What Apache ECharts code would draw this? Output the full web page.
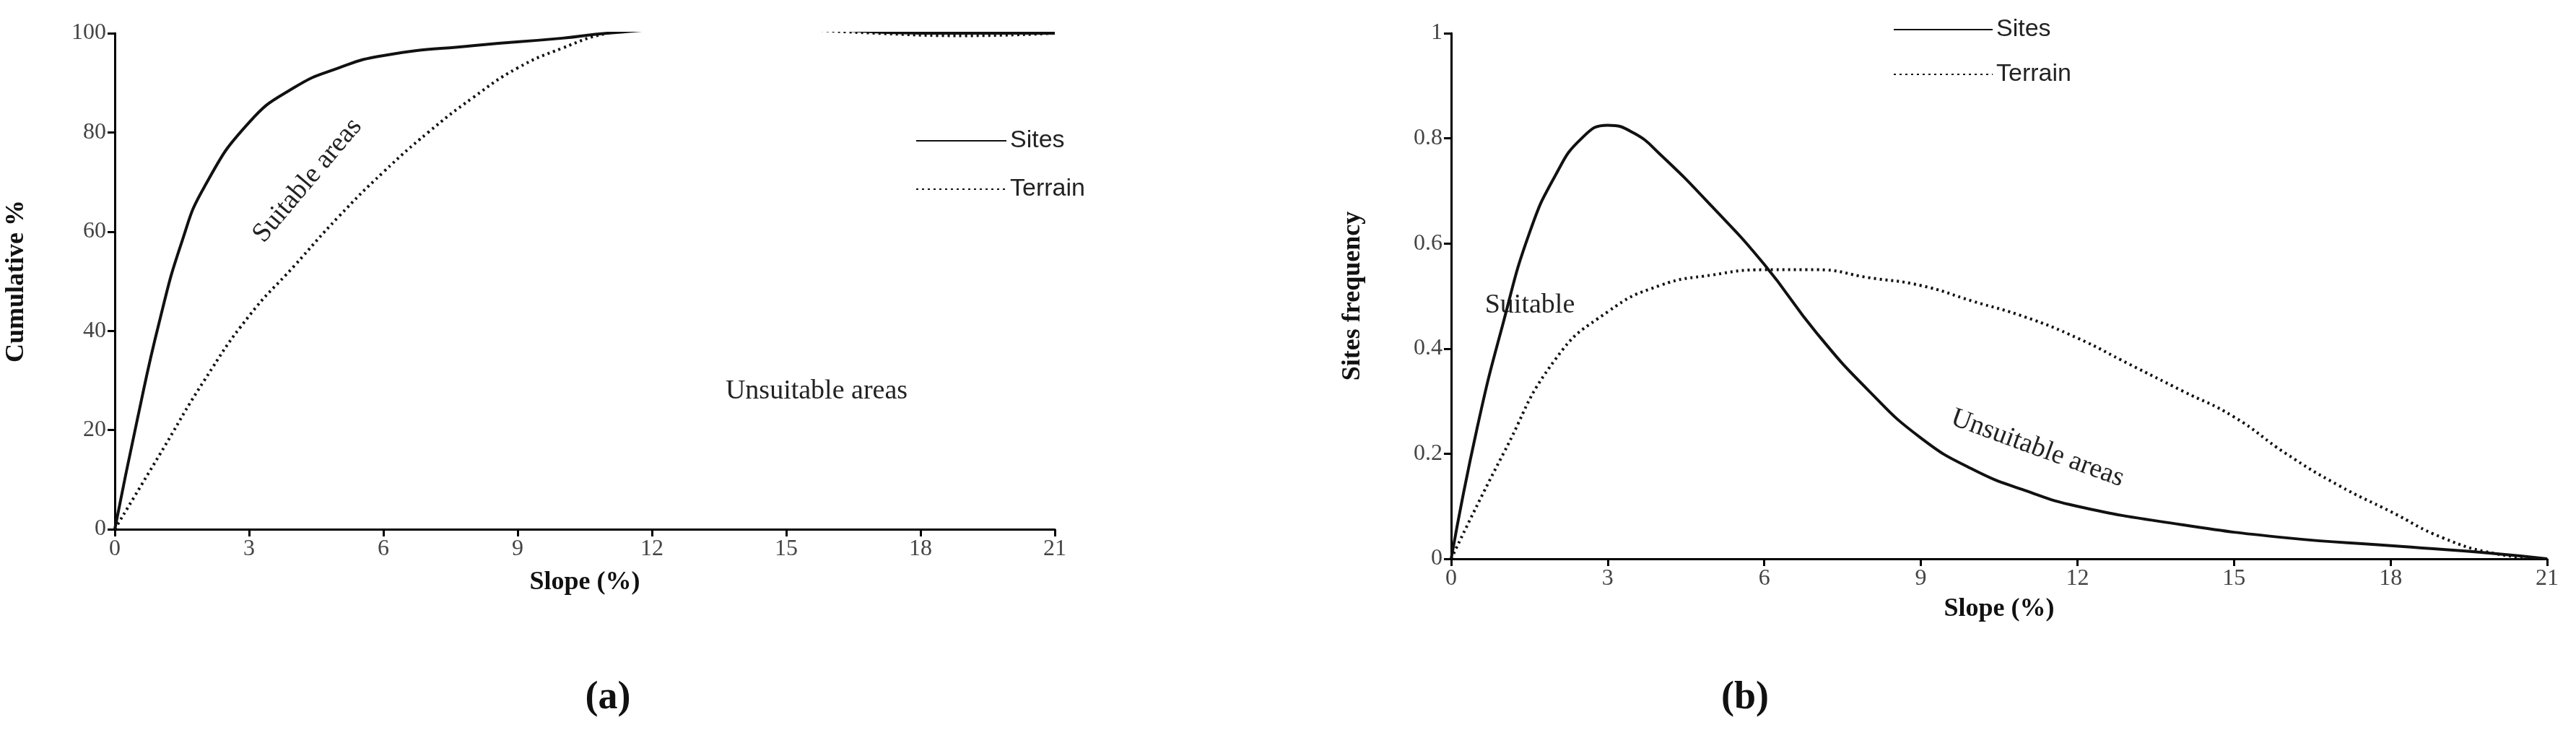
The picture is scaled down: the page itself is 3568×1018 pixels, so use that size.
<!DOCTYPE html><html><head><meta charset="utf-8"><script src="https://cdn.jsdelivr.net/npm/echarts@6/dist/echarts.min.js"></script>
<style>html,body{margin:0;background:#fff}#c{width:3568px;height:1018px}</style></head><body><div id="c"></div><script>
const cumSites=[[0,0],[0.5,22],[1,42],[1.5,58],[2,69],[3,82],[4,89],[5,93],[6,95.5],[8,97.5],[10,99],[11,100],[13,101],[15,101],[18,100],[21,100]];
const cumTerrain=[[0,0],[1,15],[2,30],[3,43],[4,53],[5,63],[6,72],[7,80],[8,87],[9,93],[10,97],[11,100],[12,101],[13,101.5],[14,101.5],[15,101],[17,100],[19,99.5],[21,100]];
const freqSites=[[0,0],[0.5,0.25],[1,0.45],[1.5,0.62],[2,0.73],[2.5,0.8],[3,0.825],[3.5,0.81],[4,0.77],[5,0.67],[6,0.56],[7,0.43],[8,0.32],[9,0.23],[10,0.17],[11,0.13],[12,0.1],[14,0.065],[16,0.04],[18,0.025],[20,0.01],[21,0]];
const freqTerrain=[[0,0],[1,0.2],[2,0.38],[3,0.47],[4,0.52],[5,0.54],[6,0.55],[7,0.55],[8,0.535],[9,0.52],[10,0.49],[11,0.46],[12,0.42],[13,0.37],[14,0.32],[15,0.27],[16,0.2],[17,0.14],[18,0.09],[19,0.04],[20,0.01],[21,0]];
const F='Liberation Serif';
const ax={axisLine:{lineStyle:{color:'#000',width:3}},axisTick:{length:10,lineStyle:{color:'#000',width:3}},splitLine:{show:false},axisLabel:{color:'#444',fontFamily:F,fontSize:32,margin:12}};
const nm={fontFamily:F,fontSize:36,fontWeight:'bold',color:'#111'};
function x(i,gap){return Object.assign({type:'value',gridIndex:i,min:0,max:21,interval:3,name:'Slope (%)',nameLocation:'middle',nameGap:gap,nameTextStyle:nm},ax);}
function y(i,max,intv,name,gap){return Object.assign({type:'value',gridIndex:i,min:0,max:max,interval:intv,name:name,nameLocation:'middle',nameGap:gap,nameTextStyle:nm},ax);}
function s(name,d,i,dot){return {type:'line',name:name,data:d,xAxisIndex:i,yAxisIndex:i,smooth:0.5,symbol:'none',lineStyle:{color:'#111',width:dot?4:4,type:dot?[3,5]:'solid'},itemStyle:{color:'#111'}};}
const lg={orient:'vertical',itemHeight:20,itemStyle:{color:'transparent',borderWidth:0},textStyle:{fontFamily:'Liberation Sans',fontSize:34,color:'#222'}};
const ch=echarts.init(document.getElementById('c'));
ch.setOption({animation:false,
grid:[{left:159,top:46,width:1302,bottom:285},{left:2010,top:46,right:40,bottom:244}],
xAxis:[x(0,56),x(1,52)],
yAxis:[y(0,100,20,'Cumulative %',118),y(1,1,0.2,'Sites frequency',118)],
legend:[Object.assign({data:['Sites','Terrain'],left:1263,top:173,itemGap:33,itemWidth:125},lg),
Object.assign({data:['Sites ','Terrain '],left:2617,top:19,itemGap:28,itemWidth:137},lg)],
series:[s('Sites',cumSites,0,false),s('Terrain',cumTerrain,0,true),s('Sites ',freqSites,1,false),s('Terrain ',freqTerrain,1,true)],
graphic:[
{type:'text',x:426,y:250,rotation:0.87,style:{text:'Suitable areas',font:'38px "Liberation Serif"',fill:'#222',textAlign:'center',textVerticalAlign:'middle'}},
{type:'text',x:1131,y:542,style:{text:'Unsuitable areas',font:'38px "Liberation Serif"',fill:'#222',textAlign:'center',textVerticalAlign:'middle'}},
{type:'text',x:2119,y:423,style:{text:'Suitable',font:'38px "Liberation Serif"',fill:'#222',textAlign:'center',textVerticalAlign:'middle'}},
{type:'text',x:2822,y:621,rotation:-0.35,style:{text:'Unsuitable areas',font:'38px "Liberation Serif"',fill:'#222',textAlign:'center',textVerticalAlign:'middle'}},
{type:'text',x:842,y:967,style:{text:'(a)',font:'bold 54px "Liberation Serif"',fill:'#111',textAlign:'center',textVerticalAlign:'middle'}},
{type:'text',x:2417,y:967,style:{text:'(b)',font:'bold 54px "Liberation Serif"',fill:'#111',textAlign:'center',textVerticalAlign:'middle'}}
]});
</script></body></html>
